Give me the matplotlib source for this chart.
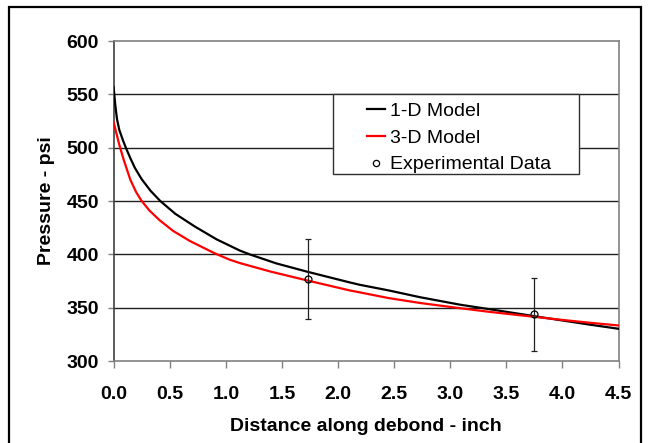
import matplotlib.pyplot as plt
from matplotlib.lines import Line2D
from matplotlib.patches import Rectangle

plt.rcParams['font.family'] = ['Liberation Sans', 'DejaVu Sans']

# 1-D model curve
x_1d = [0, 0.015, 0.03, 0.05, 0.083, 0.113, 0.15, 0.19, 0.25, 0.33, 0.416, 0.55, 0.725, 0.919,
        1.126, 1.212, 1.45, 1.726, 2.107, 2.196, 2.45, 2.731, 3.087, 3.355, 3.75, 4.0, 4.25, 4.5]
p_1d = [557, 540, 527, 517, 507, 499, 490, 481, 470.5, 459.5, 450, 438, 426, 414,
        403.5, 400, 391.5, 383.7, 373.6, 371.4, 366.2, 359.8, 352.8, 348.5, 342, 338, 334, 330.2]

# 3-D model curve
x_3d = [0, 0.05, 0.089, 0.149, 0.2, 0.247, 0.32, 0.41, 0.53, 0.68, 0.9, 1.034, 1.126,
        1.4, 1.726, 2.107, 2.196, 2.45, 2.731, 3.087, 3.355, 3.75, 4.0, 4.25, 4.5]
p_3d = [524, 503, 489, 470, 458.5, 450.5, 441, 432, 422, 412.5, 401, 395, 391.8,
        383.8, 375.5, 366.1, 364.3, 359, 354.4, 349.5, 346, 341.4, 338.5, 335.8, 333.3]

# experimental points with error bars
x_exp = [1.73, 3.75]
p_exp = [377, 344]
err_lo = [38, 34.5]
err_hi = [37, 34]

x_ticks = [0.0, 0.5, 1.0, 1.5, 2.0, 2.5, 3.0, 3.5, 4.0, 4.5]
y_ticks = [300, 350, 400, 450, 500, 550, 600]

fig = plt.figure(figsize=(6.48, 4.43), dpi=100)
ax = fig.add_axes([0.1753, 0.1851, 0.7793, 0.7223])

# horizontal gridlines
for yv in y_ticks[1:-1]:
    ax.axhline(yv, color='#202020', lw=1, zorder=1)

ax.plot(x_1d, p_1d, color='black', lw=1.6, zorder=3)
ax.plot(x_3d, p_3d, color='#ff0000', lw=1.6, zorder=3)
ax.errorbar(x_exp, p_exp, yerr=[err_lo, err_hi], fmt='o', mfc='none', mec='black',
            ms=5, mew=0.9, ecolor='#202020', elinewidth=0.9, capsize=2.5, capthick=0.9, zorder=4)

ax.set_xlim(0, 4.5)
ax.set_ylim(300, 600)
ax.set_xticks(x_ticks)
ax.set_xticklabels([f'{v:.1f}' for v in x_ticks])
ax.set_yticks(y_ticks)

for s in ['top', 'right', 'bottom']:
    ax.spines[s].set_color('#808080')
ax.spines['left'].set_color('#404040')
for s in ax.spines.values():
    s.set_linewidth(1.2)

ax.tick_params(axis='x', length=5, width=1, color='#808080', pad=13,
               labelsize=14)
ax.tick_params(axis='y', length=4.5, width=1, color='#808080', pad=6,
               labelsize=14)
for lab in ax.get_xticklabels() + ax.get_yticklabels():
    lab.set_fontweight('bold')

ax.set_xlabel('Distance along debond - inch', fontsize=14, fontweight='bold', labelpad=11)
ax.set_ylabel('Pressure - psi', fontsize=14, fontweight='bold', labelpad=8.5)

# legend box drawn by hand, legend itself frameless
ax.add_patch(Rectangle((0.434, 0.584), 0.488, 0.25, transform=ax.transAxes,
                       facecolor='white', edgecolor='#303030', lw=1, zorder=5))
handles = [Line2D([], [], color='black', lw=1.6),
           Line2D([], [], color='#ff0000', lw=1.6),
           Line2D([], [], color='black', ls='none', marker='o', mfc='none', ms=4.5, mew=0.9)]
leg = ax.legend(handles, ['1-D Model', '3-D Model', 'Experimental Data'],
                loc='upper left', bbox_to_anchor=(0.502, 0.8095), frameon=False,
                borderpad=0, borderaxespad=0, handlelength=0.9, handletextpad=0.3,
                labelspacing=0.48, fontsize=14)
leg.set_zorder(6)

# outer frame around the figure
fig.add_artist(Rectangle((9 / 648, -0.02), 632 / 648, 1 - 7 / 443 + 0.02,
                         transform=fig.transFigure, fill=False, edgecolor='black', lw=1.6))

fig.savefig('out.png', dpi=100)
